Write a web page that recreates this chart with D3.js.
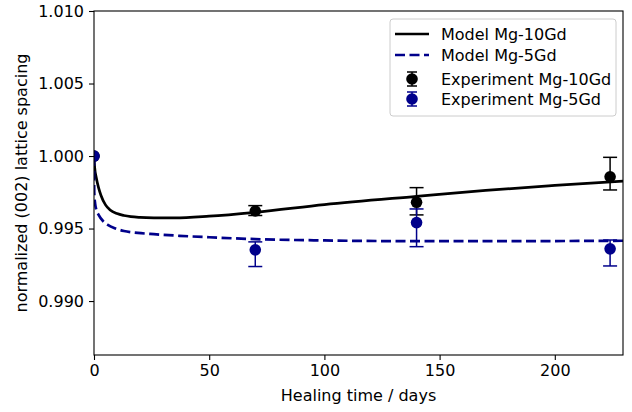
<!DOCTYPE html>
<html lang="en">
<head>
  <meta charset="utf-8">
  <title>lattice spacing</title>
  <style>
  * { margin:0; padding:0; }
  body { background: white; }
  svg text { font-family: "DejaVu Sans", sans-serif; fill: #000; }
  </style>
  <script src="https://d3js.org/d3.v7.min.js"></script>
</head>
<body>
  <div id="chart"></div>
  <script type="text/javascript">
    // model curves
    var model10Days = [0, 0.3, 1, 2, 3, 5, 7, 10, 13, 16, 20, 26, 35, 50, 70, 100, 140, 170, 200, 230];
    var model10Vals = [1.000, 0.9992, 0.9985, 0.9978, 0.9973, 0.99663, 0.99628, 0.99603, 0.99590, 0.99582, 0.99577, 0.99574, 0.99573, 0.99585, 0.99612, 0.99665, 0.99722, 0.99763, 0.99797, 0.99828];
    var model5Days = [0, 0.1, 0.5, 1, 2, 4, 6, 9, 13, 19, 26, 37, 50, 70, 100, 140, 180, 230];
    var model5Vals = [1.000, 0.9975, 0.9967, 0.9963, 0.99594, 0.99550, 0.99525, 0.99502, 0.99483, 0.99470, 0.99461, 0.99450, 0.9944, 0.99427, 0.99418, 0.99413, 0.99413, 0.99416];

    // experiments
    var expDays = [0, 70, 140, 224];
    var exp10Vals = [1.000, 0.99621, 0.99681, 0.99857];
    var exp10Low = [1.000, 0.99590, 0.99594, 0.99766];
    var exp10High = [1.000, 0.99658, 0.99782, 0.99991];
    var exp5Vals = [1.000, 0.99353, 0.99541, 0.99360];
    var exp5Low = [1.000, 0.99238, 0.99375, 0.99242];
    var exp5High = [1.000, 0.99408, 0.99635, 0.99421];

    var xTicks = [0, 50, 100, 150, 200];
    var yTicks = [0.990, 0.995, 1.000, 1.005, 1.010];
    var legendLabels = ["Model Mg-10Gd", "Model Mg-5Gd", "Experiment Mg-10Gd", "Experiment Mg-5Gd"];

    var width = 632, height = 412;
    var pL = 94, pR = 623, pT = 11, pB = 355;
    var navy = "#00008b";
    var fs = "16px";

    var svg = d3.select("#chart").append("svg")
      .attr("width", width)
      .attr("height", height);

    var x = d3.scaleLinear().domain([0, 229.6]).range([pL, pR]);
    var y = d3.scaleLinear().domain([0.98628, 1.010]).range([pB, pT]);

    svg.append("clipPath").attr("id", "plotclip")
      .append("rect")
      .attr("x", pL).attr("y", pT)
      .attr("width", pR-pL).attr("height", pB-pT);

    var plot = svg.append("g").attr("clip-path", "url(#plotclip)");

    var line = d3.line()
      .x(function(d) { return x(d[0]); })
      .y(function(d) { return y(d[1]); })
      .curve(d3.curveMonotoneX);

    plot.append("path")
      .datum(d3.zip(model10Days, model10Vals))
      .attr("d", line)
      .attr("fill", "none")
      .attr("stroke", "#000")
      .attr("stroke-width", 2.7);

    plot.append("path")
      .datum(d3.zip(model5Days, model5Vals))
      .attr("d", line)
      .attr("fill", "none")
      .attr("stroke", navy)
      .attr("stroke-width", 2.7)
      .attr("stroke-dasharray", "10,4.5");

    function drawExp(vals, lows, highs, col) {
      var g = plot.append("g");
      var rows = expDays.map(function(d, i) { return {x: d, v: vals[i], lo: lows[i], hi: highs[i]}; });
      var eb = g.selectAll("g.eb").data(rows.filter(function(d) { return d.hi > d.lo; }))
        .join("g").attr("class", "eb");
      eb.append("line")
        .attr("x1", function(d) { return x(d.x); })
        .attr("x2", function(d) { return x(d.x); })
        .attr("y1", function(d) { return y(d.lo); })
        .attr("y2", function(d) { return y(d.hi); })
        .attr("stroke", col).attr("stroke-width", 1.5);
      [ "lo", "hi" ].forEach(function(k) {
        eb.append("line")
          .attr("x1", function(d) { return x(d.x) - 7; })
          .attr("x2", function(d) { return x(d.x) + 7; })
          .attr("y1", function(d) { return y(d[k]); })
          .attr("y2", function(d) { return y(d[k]); })
          .attr("stroke", col).attr("stroke-width", 1.5);
      });
      g.selectAll("circle").data(rows).join("circle")
        .attr("cx", function(d) { return x(d.x); })
        .attr("cy", function(d) { return y(d.v); })
        .attr("r", 5.8)
        .attr("fill", col);
    }
    drawExp(exp10Vals, exp10Low, exp10High, "#000");
    drawExp(exp5Vals, exp5Low, exp5High, navy);

    // axes
    var xAxis = svg.append("g")
      .attr("transform", "translate(0," + pB + ")")
      .call(d3.axisBottom(x).tickValues(xTicks).tickFormat(d3.format("d")).tickSizeOuter(0).tickSize(5).tickPadding(5));
    var yAxis = svg.append("g")
      .attr("transform", "translate(" + pL + ",0)")
      .call(d3.axisLeft(y).tickValues(yTicks).tickFormat(d3.format(".3f")).tickSizeOuter(0).tickSize(5).tickPadding(5));
    [xAxis, yAxis].forEach(function(a) {
      a.selectAll("text").style("font-size", fs).attr("fill", "#000");
      a.selectAll("line").attr("stroke", "#000").attr("stroke-width", 1.1);
      a.select(".domain").remove();
    });

    svg.append("rect")
      .attr("x", pL).attr("y", pT)
      .attr("width", pR-pL).attr("height", pB-pT)
      .attr("fill", "none").attr("stroke", "#000").attr("stroke-width", 1.1);

    svg.append("text")
      .attr("x", (pL+pR)/2).attr("y", 401)
      .attr("text-anchor", "middle")
      .style("font-size", fs)
      .text("Healing time / days");
    svg.append("text")
      .attr("transform", "translate(27," + ((pT+pB)/2) + ") rotate(-90)")
      .attr("text-anchor", "middle")
      .style("font-size", fs)
      .text("normalized (002) lattice spacing");

    // legend
    var leg = svg.append("g").attr("transform", "translate(390,19)");
    leg.append("rect")
      .attr("width", 226).attr("height", 97)
      .attr("rx", 3)
      .attr("fill", "white").attr("fill-opacity", 0.8)
      .attr("stroke", "#ccc").attr("stroke-width", 1);
    var rowY = [15, 36, 60, 80];
    leg.selectAll("text").data(legendLabels).join("text")
      .attr("x", 51)
      .attr("y", function(d, i) { return rowY[i]; })
      .attr("dy", "0.35em")
      .style("font-size", fs)
      .text(function(d) { return d; });
    leg.append("line").attr("x1", 5).attr("x2", 39).attr("y1", rowY[0]).attr("y2", rowY[0])
      .attr("stroke", "#000").attr("stroke-width", 2.7);
    leg.append("line").attr("x1", 5).attr("x2", 39).attr("y1", rowY[1]).attr("y2", rowY[1])
      .attr("stroke", navy).attr("stroke-width", 2.7).attr("stroke-dasharray", "10,4.5");
    [[rowY[2], "#000"], [rowY[3], navy]].forEach(function(r) {
      var cx = 22, cy = r[0];
      leg.append("line").attr("x1", cx).attr("x2", cx).attr("y1", cy-7).attr("y2", cy+7)
        .attr("stroke", r[1]).attr("stroke-width", 1.5);
      leg.append("line").attr("x1", cx-5).attr("x2", cx+5).attr("y1", cy-7).attr("y2", cy-7)
        .attr("stroke", r[1]).attr("stroke-width", 1.5);
      leg.append("line").attr("x1", cx-5).attr("x2", cx+5).attr("y1", cy+7).attr("y2", cy+7)
        .attr("stroke", r[1]).attr("stroke-width", 1.5);
      leg.append("circle").attr("cx", cx).attr("cy", cy).attr("r", 5.8).attr("fill", r[1]);
    });
  </script>
</body>
</html>
